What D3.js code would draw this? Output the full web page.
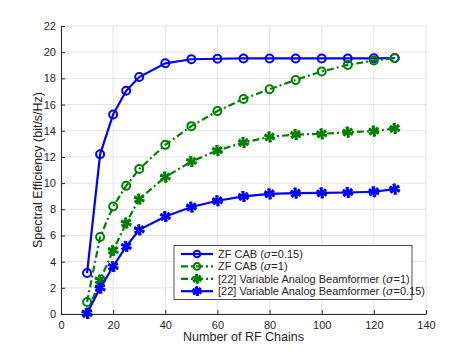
<!DOCTYPE html>
<html>
<head>
<meta charset="utf-8">
<script src="https://cdn.jsdelivr.net/npm/d3@7"></script>
<style>
  body { margin: 0; background: #fff; }
  text { font-family: "Liberation Sans", Arial, sans-serif; fill: #262626; }
</style>
</head>
<body>
<div id="chart"></div>
<script>
(function(){

  var chains = [10, 15, 20, 25, 30, 40, 50, 60, 70, 80, 90, 100, 110, 120, 128];
  var zfLow = [3.13, 12.2, 15.24, 17.05, 18.1, 19.15, 19.46, 19.5, 19.52, 19.52, 19.52, 19.52, 19.52, 19.53, 19.55];
  var zfHigh = [0.92, 5.88, 8.21, 9.79, 11.07, 12.92, 14.35, 15.5, 16.43, 17.17, 17.88, 18.52, 19.03, 19.36, 19.56];
  var varHigh = [0.05, 2.6, 4.85, 6.95, 8.78, 10.46, 11.65, 12.49, 13.1, 13.53, 13.71, 13.76, 13.89, 13.97, 14.17];
  var varLow = [0.05, 1.98, 3.63, 5.16, 6.43, 7.45, 8.17, 8.65, 8.98, 9.18, 9.23, 9.25, 9.28, 9.34, 9.54];
  var xTicks = [0, 20, 40, 60, 80, 100, 120, 140];
  var yTicks = [0, 2, 4, 6, 8, 10, 12, 14, 16, 18, 20, 22];

  var series = [
    {name: "ZF CAB (", sigma: "0.15", values: zfLow, color: "#0000ff", dash: null, marker: "circle"},
    {name: "ZF CAB (", sigma: "1", values: zfHigh, color: "#008000", dash: "7,3,2,3", marker: "circle"},
    {name: "[22] Variable Analog Beamformer (", sigma: "1", values: varHigh, color: "#008000", dash: "7,3,2,3", marker: "star"},
    {name: "[22] Variable Analog Beamformer (", sigma: "0.15", values: varLow, color: "#0000ff", dash: null, marker: "star"}
  ];

  var width = 471, height = 353;
  var left = 61, right = 426, top = 26, bottom = 314;

  var svg = d3.select("#chart").append("svg")
    .attr("width", width)
    .attr("height", height);

  var x = d3.scaleLinear().domain([0, 140]).range([left, right]);
  var y = d3.scaleLinear().domain([0, 22]).range([bottom, top]);

  // grid
  var grid = svg.append("g").attr("stroke", "#e3e3e3").attr("stroke-width", 1);
  xTicks.forEach(function(t){
    grid.append("line").attr("x1", x(t)).attr("x2", x(t)).attr("y1", top).attr("y2", bottom);
  });
  yTicks.forEach(function(t){
    grid.append("line").attr("x1", left).attr("x2", right).attr("y1", y(t)).attr("y2", y(t));
  });

  // axes
  var xAxis = svg.append("g")
    .attr("transform", "translate(0," + bottom + ")")
    .call(d3.axisBottom(x).tickValues(xTicks).tickSizeInner(-4).tickSizeOuter(0).tickPadding(7));
  var yAxis = svg.append("g")
    .attr("transform", "translate(" + left + ",0)")
    .call(d3.axisLeft(y).tickValues(yTicks).tickSizeInner(-4).tickSizeOuter(0).tickPadding(5));
  [xAxis, yAxis].forEach(function(a){
    a.select(".domain").attr("stroke", "#262626");
    a.selectAll(".tick line").attr("stroke", "#262626");
    a.selectAll(".tick text").style("font-size", "11px").style("font-family", "Liberation Sans, Arial, sans-serif").attr("fill", "#262626");
  });

  svg.append("text")
    .attr("x", (left + right) / 2)
    .attr("y", 341)
    .attr("text-anchor", "middle")
    .style("font-size", "12.5px")
    .text("Number of RF Chains");

  svg.append("text")
    .attr("transform", "translate(42," + ((top + bottom) / 2) + ") rotate(-90)")
    .attr("text-anchor", "middle")
    .style("font-size", "12.5px")
    .text("Spectral Efficiency (bit/s/Hz)");

  var line = d3.line()
    .x(function(d, i){ return x(chains[i]); })
    .y(function(d){ return y(d); });

  function drawMarker(g, type, color, cx, cy, r){
    if (type === "circle") {
      g.append("circle").attr("cx", cx).attr("cy", cy).attr("r", r)
        .attr("fill", "none").attr("stroke", color).attr("stroke-width", 2);
    } else {
      var s = d3.symbol().type(d3.symbolAsterisk).size(r * r * 6);
      g.append("path").attr("d", s()).attr("transform", "translate(" + cx + "," + cy + ")")
        .attr("fill", "none").attr("stroke", color).attr("stroke-width", 2.2);
      g.append("path").attr("d", s()).attr("transform", "translate(" + cx + "," + cy + ") rotate(45)")
        .attr("fill", "none").attr("stroke", color).attr("stroke-width", 2.2);
    }
  }

  series.forEach(function(s){
    svg.append("path")
      .datum(s.values)
      .attr("d", line)
      .attr("fill", "none")
      .attr("stroke", s.color)
      .attr("stroke-width", 2.2)
      .attr("stroke-dasharray", s.dash);
    var g = svg.append("g");
    s.values.forEach(function(v, i){
      drawMarker(g, s.marker, s.color, x(chains[i]), y(v), s.marker === "circle" ? 4 : 3.8);
    });
  });

  // legend
  var lg = svg.append("g");
  lg.append("rect")
    .attr("x", 174).attr("y", 245.5).attr("width", 238).attr("height", 54)
    .attr("fill", "#fff").attr("stroke", "#262626").attr("stroke-width", 0.8);
  series.forEach(function(s, i){
    var ly = 254 + i * 12.4;
    lg.append("line").attr("x1", 181).attr("x2", 213).attr("y1", ly).attr("y2", ly)
      .attr("stroke", s.color).attr("stroke-width", 2.2).attr("stroke-dasharray", s.dash);
    drawMarker(lg, s.marker, s.color, 197, ly, 3.3);
    var t = lg.append("text").attr("x", 218).attr("y", ly + 4).style("font-size", "11px");
    t.append("tspan").text(s.name);
    t.append("tspan").style("font-style", "italic").style("font-family", "DejaVu Serif, serif").text("σ");
    t.append("tspan").text("=" + s.sigma + ")");
  });

})();
</script>
</body>
</html>
